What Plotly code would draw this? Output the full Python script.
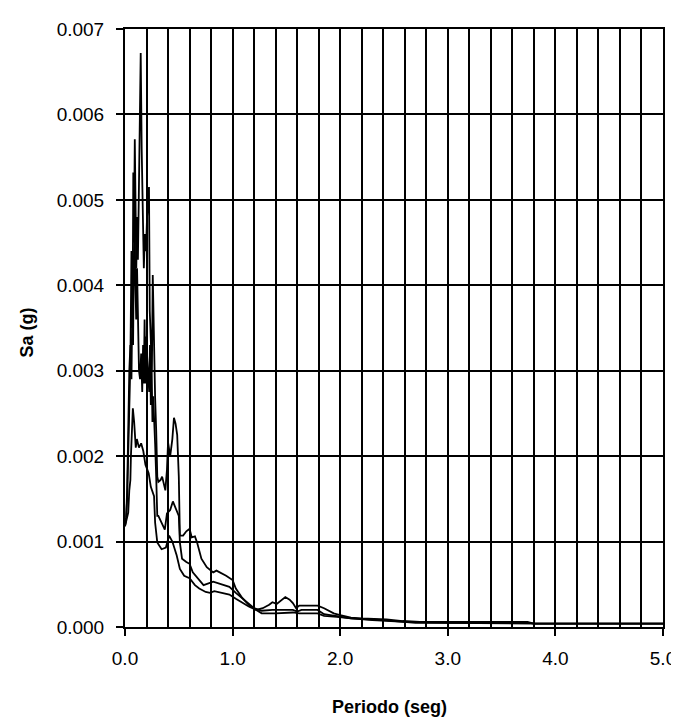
import plotly.graph_objects as go

# Curve A (highest peaks)
period_a = [0.000, 0.010, 0.020, 0.030, 0.040, 0.050, 0.060, 0.065, 0.070, 0.077, 0.083, 0.091, 0.098,
            0.105, 0.112, 0.120, 0.128, 0.135, 0.146, 0.155, 0.165, 0.175, 0.185, 0.195, 0.205, 0.215,
            0.223, 0.230, 0.240, 0.250, 0.258, 0.265, 0.272, 0.280, 0.290, 0.300, 0.310, 0.330, 0.345,
            0.360, 0.375, 0.390, 0.400, 0.420, 0.440, 0.455, 0.470, 0.485, 0.500, 0.510, 0.540, 0.570,
            0.600, 0.620, 0.650, 0.670, 0.710, 0.760, 0.820, 0.850, 0.900, 0.940, 1.000, 1.030, 1.090,
            1.150, 1.220, 1.280, 1.340, 1.370, 1.410, 1.450, 1.490, 1.530, 1.560, 1.590, 1.620, 1.700,
            1.790, 1.850, 1.940, 2.000, 2.100, 2.200, 2.430, 2.580, 2.740, 3.000, 3.400, 3.740, 3.800, 5.000]
sa_a = [0.00120, 0.00128, 0.00150, 0.00200, 0.00270, 0.00310, 0.00440, 0.00380, 0.00350, 0.00532, 0.00450,
        0.00571, 0.00470, 0.00420, 0.00480, 0.00430, 0.00500, 0.00560, 0.00672, 0.00560, 0.00470, 0.00420,
        0.00460, 0.00440, 0.00480, 0.00500, 0.00515, 0.00370, 0.00330, 0.00300, 0.00412, 0.00350, 0.00310,
        0.00268, 0.00230, 0.00176, 0.00170, 0.00172, 0.00176, 0.00166, 0.00160, 0.00184, 0.00216, 0.00200,
        0.00220, 0.00245, 0.00238, 0.00225, 0.00176, 0.00107, 0.00107, 0.00112, 0.00115, 0.00105, 0.00106,
        0.00099, 0.00080, 0.00070, 0.00064, 0.00066, 0.00063, 0.00060, 0.00055, 0.00045, 0.00034, 0.00026,
        0.00020, 0.00022, 0.00026, 0.00029, 0.00027, 0.00031, 0.00035, 0.00032, 0.00028, 0.00022, 0.00025,
        0.00025, 0.00025, 0.00022, 0.00016, 0.00014, 0.00011, 0.00010, 0.00009, 0.00007, 0.00006, 0.00006,
        0.00006, 0.00006, 0.00004, 0.00004]

# Curve B (middle)
period_b = [0.000, 0.010, 0.020, 0.030, 0.040, 0.050, 0.060, 0.068, 0.075, 0.082, 0.090, 0.097, 0.104,
            0.112, 0.120, 0.130, 0.140, 0.150, 0.160, 0.168, 0.175, 0.182, 0.190, 0.198, 0.205, 0.215,
            0.225, 0.232, 0.240, 0.248, 0.255, 0.262, 0.270, 0.280, 0.290, 0.300, 0.310, 0.330, 0.360,
            0.370, 0.390, 0.420, 0.445, 0.470, 0.500, 0.510, 0.530, 0.570, 0.600, 0.630, 0.680, 0.730,
            0.820, 0.900, 0.970, 1.030, 1.120, 1.200, 1.270, 1.370, 1.560, 1.600, 1.640, 1.790, 1.850,
            1.970, 2.100, 2.300, 2.600, 3.000, 3.740, 3.800, 5.000]
sa_b = [0.00118, 0.00125, 0.00160, 0.00240, 0.00300, 0.00330, 0.00290, 0.00380, 0.00330, 0.00430, 0.00465,
        0.00400, 0.00360, 0.00420, 0.00380, 0.00300, 0.00290, 0.00320, 0.00275, 0.00330, 0.00285, 0.00360,
        0.00285, 0.00340, 0.00318, 0.00290, 0.00275, 0.00330, 0.00260, 0.00300, 0.00240, 0.00270, 0.00233,
        0.00214, 0.00176, 0.00130, 0.00130, 0.00125, 0.00118, 0.00114, 0.00133, 0.00137, 0.00147, 0.00140,
        0.00130, 0.00099, 0.00080, 0.00076, 0.00074, 0.00064, 0.00057, 0.00049, 0.00053, 0.00050, 0.00047,
        0.00040, 0.00030, 0.00022, 0.00019, 0.00020, 0.00020, 0.00018, 0.00020, 0.00020, 0.00015, 0.00013,
        0.00010, 0.00008, 0.00006, 0.00005, 0.00005, 0.00004, 0.00004]

# Curve C (lowest)
period_c = [0.000, 0.015, 0.030, 0.040, 0.050, 0.055, 0.065, 0.073, 0.085, 0.100, 0.110, 0.130, 0.150,
            0.170, 0.190, 0.220, 0.240, 0.270, 0.280, 0.300, 0.340, 0.380, 0.410, 0.440, 0.480, 0.510,
            0.550, 0.600, 0.650, 0.690, 0.750, 0.790, 0.830, 0.970, 1.030, 1.150, 1.220, 1.270, 1.400,
            1.560, 1.620, 1.790, 1.850, 1.970, 2.100, 2.400, 2.700, 3.000, 3.800, 5.000]
sa_c = [0.00118, 0.00125, 0.00134, 0.00160, 0.00172, 0.00200, 0.00230, 0.00256, 0.00240, 0.00210, 0.00220,
        0.00210, 0.00215, 0.00206, 0.00190, 0.00180, 0.00164, 0.00153, 0.00122, 0.00099, 0.00091, 0.00093,
        0.00107, 0.00100, 0.00084, 0.00068, 0.00060, 0.00057, 0.00049, 0.00045, 0.00041, 0.00040, 0.00042,
        0.00038, 0.00033, 0.00024, 0.00020, 0.00016, 0.00016, 0.00017, 0.00016, 0.00016, 0.00013, 0.00012,
        0.00010, 0.00008, 0.00005, 0.00005, 0.00004, 0.00004]

x_ticks = [0, 1, 2, 3, 4, 5]
y_ticks = [0, 0.001, 0.002, 0.003, 0.004, 0.005, 0.006, 0.007]

FONT = "Liberation Sans, Arial, sans-serif"

fig = go.Figure()
for px_, sy in [(period_a, sa_a), (period_b, sa_b), (period_c, sa_c)]:
    fig.add_trace(go.Scatter(x=px_, y=sy, mode="lines",
                             line=dict(color="black", width=1.8), showlegend=False))

fig.update_layout(
    width=679, height=717,
    margin=dict(l=117, r=15, t=11, b=98),
    paper_bgcolor="white", plot_bgcolor="white",
    font=dict(family=FONT, color="black", size=19),
    showlegend=False,
)
fig.update_xaxes(
    range=[0, 5], tickvals=x_ticks, ticktext=[f"{v:.1f}" for v in x_ticks],
    showgrid=True, gridcolor="black", gridwidth=1.6,
    minor=dict(dtick=0.2, tick0=0, showgrid=True, gridcolor="black", gridwidth=1.6, ticks=""),
    ticks="outside", ticklen=7, tickwidth=1.5, tickcolor="black",
    showline=True, linecolor="black", linewidth=2, mirror=True,
    zeroline=False, tickfont=dict(size=19, family=FONT), ticklabelstandoff=6,
)
fig.update_yaxes(
    range=[0, 0.007], tickvals=y_ticks, ticktext=[f"{v:.3f}" for v in y_ticks],
    showgrid=True, gridcolor="black", gridwidth=1.6,
    ticks="outside", ticklen=7, tickwidth=1.5, tickcolor="black",
    showline=True, linecolor="black", linewidth=2, mirror=True,
    zeroline=False, tickfont=dict(size=19, family=FONT), ticklabelstandoff=8,
)
fig.add_annotation(text="<b>Sa (g)</b>", xref="paper", yref="paper",
                   x=(17 - 117) / 547, y=0.492, textangle=-90, showarrow=False,
                   xanchor="center", yanchor="middle", font=dict(size=18, family=FONT))
fig.add_annotation(text="<b>Periodo (seg)</b>", xref="paper", yref="paper",
                   x=0.4918, y=(619 - 700) / 608, showarrow=False,
                   xanchor="center", yanchor="middle", font=dict(size=18, family=FONT))

fig.write_html("out.html")
